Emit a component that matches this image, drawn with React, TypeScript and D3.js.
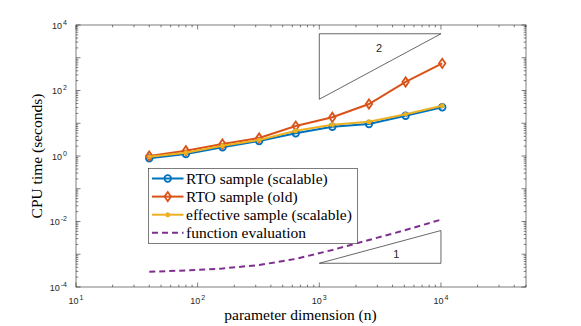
import React from 'react';
import * as d3 from 'd3';

// parameter dimension n
const dims = [40, 80, 160, 320, 640, 1280, 2560, 5120, 10240];
// CPU time (seconds)
const rtoScalable = [0.85, 1.15, 1.84, 2.87, 4.93, 7.85, 9.5, 17.0, 30.7];
const rtoOld = [1.0, 1.45, 2.32, 3.55, 8.2, 15.2, 38.7, 182, 676];
const effective = [0.95, 1.26, 2.06, 3.08, 5.93, 9.0, 11.2, 18.8, 34.3];
const funcEval = [2.93e-4, 3.19e-4, 3.67e-4, 4.7e-4, 7.2e-4, 1.35e-3, 2.72e-3, 5.5e-3, 1.17e-2];

const xTickExp = [1, 2, 3, 4];
const yTickExp = [-4, -2, 0, 2, 4];

// slope triangles (data coords)
const slope2 = [[1e3, 54], [1e3, 5400], [1e4, 5400]];
const slope1 = [[1e3, 5.3e-4], [1e4, 5.3e-4], [1e4, 5.3e-3]];
const slopeLabels = [
  { text: '2', x: 3100, y: 1950 },
  { text: '1', x: 4300, y: 1.0e-3 },
];

const legendItems = [
  { label: 'RTO sample (scalable)', color: '#0072BD', marker: 'o', dash: false },
  { label: 'RTO sample (old)', color: '#D95319', marker: 'd', dash: false },
  { label: 'effective sample (scalable)', color: '#EDB120', marker: '*', dash: false },
  { label: 'function evaluation', color: '#7E2F8E', marker: '', dash: true },
];

const W = 581;
const H = 326;
const plot = { left: 76, right: 526, top: 25, bottom: 287 };
const axisColor = '#262626';
const serif = '"Liberation Serif", "Times New Roman", serif';
const sans = '"Liberation Sans", Arial, Helvetica, sans-serif';

const Marker = ({ type, x, y, color }: { type: string; x: number; y: number; color: string }) => {
  if (type === 'o') {
    return <circle cx={x} cy={y} r={3.3} fill="none" stroke={color} strokeWidth={1.8} />;
  }
  if (type === 'd') {
    const s = 4.6;
    const w = 3.2;
    return (
      <path
        d={`M${x},${y - s}L${x + w},${y}L${x},${y + s}L${x - w},${y}Z`}
        fill="none"
        stroke={color}
        strokeWidth={1.8}
      />
    );
  }
  if (type === '*') {
    const s = 2.6;
    return (
      <path
        d={`M${x - s},${y}L${x + s},${y}M${x},${y - s}L${x},${y + s}M${x - s * 0.7},${y - s * 0.7}L${x + s * 0.7},${y + s * 0.7}M${x - s * 0.7},${y + s * 0.7}L${x + s * 0.7},${y - s * 0.7}`}
        fill="none"
        stroke={color}
        strokeWidth={1.2}
      />
    );
  }
  return null;
};

export default function App() {
  const x = d3.scaleLog().domain([10, 5e4]).range([plot.left, plot.right]);
  const y = d3.scaleLog().domain([1e-4, 1e4]).range([plot.bottom, plot.top]);

  const line = d3
    .line<[number, number]>()
    .x((d) => x(d[0]))
    .y((d) => y(d[1]));

  const series = [
    { values: rtoScalable, ...legendItems[0] },
    { values: rtoOld, ...legendItems[1] },
    { values: effective, ...legendItems[2] },
    { values: funcEval, ...legendItems[3] },
  ];

  // ticks
  const xMajor = xTickExp.map((e) => Math.pow(10, e));
  const xMinor: number[] = [];
  for (let e = 1; e <= 4; e++) {
    for (let m = 2; m <= 9; m++) {
      const v = m * Math.pow(10, e);
      if (v <= 5e4) xMinor.push(v);
    }
  }
  const yMajor: number[] = [];
  const yMinor: number[] = [];
  for (let e = -4; e <= 4; e++) {
    yMajor.push(Math.pow(10, e));
    if (e < 4) for (let m = 2; m <= 9; m++) yMinor.push(m * Math.pow(10, e));
  }

  const majLen = 4.5;
  const minLen = 2.3;

  const legend = { x: 148.5, y: 168.5, w: 209, h: 75, rowH: 18.1 };

  return (
    <svg
      width={W}
      height={H}
      style={{ position: 'absolute', left: 0, top: 0, background: '#fff' }}
    >
      <rect x={0} y={0} width={W} height={H} fill="#fff" />

      {/* ticks */}
      <g stroke={axisColor} strokeWidth={0.6}>
        {xMajor.map((v) => (
          <g key={'xM' + v}>
            <line x1={x(v)} x2={x(v)} y1={plot.bottom} y2={plot.bottom - majLen} />
            <line x1={x(v)} x2={x(v)} y1={plot.top} y2={plot.top + majLen} />
          </g>
        ))}
        {xMinor.map((v) => (
          <g key={'xm' + v}>
            <line x1={x(v)} x2={x(v)} y1={plot.bottom} y2={plot.bottom - minLen} />
            <line x1={x(v)} x2={x(v)} y1={plot.top} y2={plot.top + minLen} />
          </g>
        ))}
        {yMajor.map((v) => (
          <g key={'yM' + v}>
            <line x1={plot.left} x2={plot.left + majLen} y1={y(v)} y2={y(v)} />
            <line x1={plot.right} x2={plot.right - majLen} y1={y(v)} y2={y(v)} />
          </g>
        ))}
        {yMinor.map((v) => (
          <g key={'ym' + v}>
            <line x1={plot.left} x2={plot.left + minLen} y1={y(v)} y2={y(v)} />
            <line x1={plot.right} x2={plot.right - minLen} y1={y(v)} y2={y(v)} />
          </g>
        ))}
      </g>

      {/* slope triangles */}
      <g fill="none" stroke={axisColor} strokeWidth={0.7}>
        <path d={line(slope2 as [number, number][]) + 'Z'} />
        <path d={line(slope1 as [number, number][]) + 'Z'} />
      </g>
      {slopeLabels.map((l) => (
        <text
          key={l.text}
          x={x(l.x)}
          y={y(l.y)}
          textAnchor="middle"
          dominantBaseline="central"
          fontFamily={sans}
          fontSize={11}
          fill={axisColor}
        >
          {l.text}
        </text>
      ))}

      {/* series */}
      {series.map((s) => {
        const pts = dims.map((d, i) => [d, s.values[i]] as [number, number]);
        return (
          <g key={s.label}>
            <path
              d={line(pts) || ''}
              fill="none"
              stroke={s.color}
              strokeWidth={2}
              strokeDasharray={s.dash ? '6,4' : undefined}
            />
            {pts.map((p, i) => (
              <Marker key={i} type={s.marker} x={x(p[0])} y={y(p[1])} color={s.color} />
            ))}
          </g>
        );
      })}

      {/* axes box */}
      <rect
        x={plot.left}
        y={plot.top}
        width={plot.right - plot.left}
        height={plot.bottom - plot.top}
        fill="none"
        stroke={axisColor}
        strokeWidth={0.6}
      />

      {/* x tick labels */}
      {xTickExp.map((e) => (
        <text
          key={'xl' + e}
          x={x(Math.pow(10, e))}
          y={plot.bottom + 17}
          textAnchor="middle"
          fontFamily={sans}
          fontSize={9}
          fill={axisColor}
        >
          10
          <tspan dx={1} dy={-4} fontSize={7}>
            {e}
          </tspan>
        </text>
      ))}

      {/* y tick labels */}
      {yTickExp.map((e) => (
        <text
          key={'yl' + e}
          x={plot.left - 9}
          y={y(Math.pow(10, e)) + 3.5}
          textAnchor="end"
          fontFamily={sans}
          fontSize={9}
          fill={axisColor}
        >
          10
          <tspan dx={1} dy={-4} fontSize={7}>
            {e}
          </tspan>
        </text>
      ))}

      {/* axis labels */}
      <text
        x={(plot.left + plot.right) / 2 - 0.5}
        y={320}
        textAnchor="middle"
        fontFamily={serif}
        fontSize={15.5}
        fill="#000"
      >
        parameter dimension (n)
      </text>
      <text
        transform={`translate(42,${(plot.top + plot.bottom) / 2}) rotate(-90)`}
        textAnchor="middle"
        fontFamily={serif}
        fontSize={15.5}
        fill="#000"
      >
        CPU time (seconds)
      </text>

      {/* legend */}
      <g>
        <rect
          x={legend.x}
          y={legend.y}
          width={legend.w}
          height={legend.h}
          fill="#fff"
          stroke={axisColor}
          strokeWidth={0.6}
        />
        {legendItems.map((it, i) => {
          const cy = legend.y + 10 + i * legend.rowH;
          const x1 = legend.x + 3.5;
          const x2 = legend.x + 35;
          return (
            <g key={it.label}>
              <line
                x1={x1}
                x2={x2}
                y1={cy}
                y2={cy}
                stroke={it.color}
                strokeWidth={2}
                strokeDasharray={it.dash ? '6,4' : undefined}
              />
              <Marker type={it.marker} x={(x1 + x2) / 2} y={cy} color={it.color} />
              <text
                x={legend.x + 37.5}
                y={cy + 5}
                fontFamily={serif}
                fontSize={15.5}
                fill="#000"
              >
                {it.label}
              </text>
            </g>
          );
        })}
      </g>
    </svg>
  );
}
